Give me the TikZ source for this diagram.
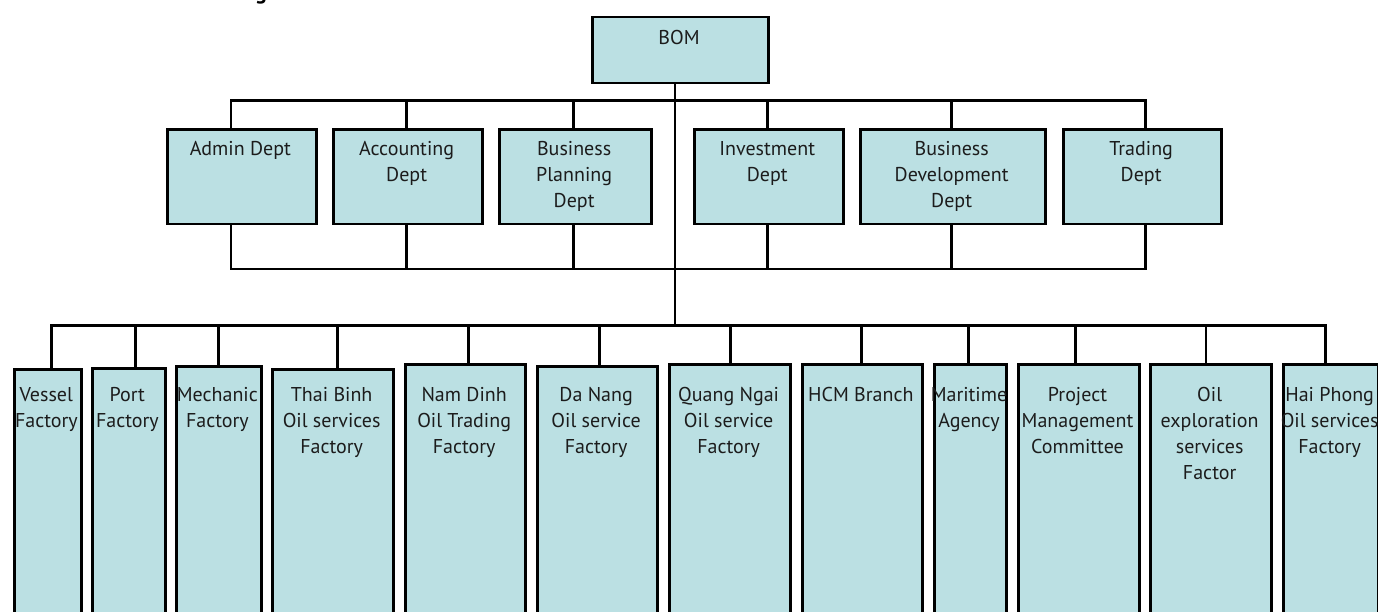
\documentclass[tikz,border=0pt]{standalone}
\usepackage{fontspec}
\setmainfont{PT Sans}
\definecolor{boxfill}{RGB}{187,224,227}
\definecolor{inkgray}{RGB}{28,28,28}

% centred lines whose reference point is the first baseline
\newcommand\toplines[1]{\parbox[t]{200pt}{\centering #1}}

% department box hanging between the two department buses
% #1 name, #2 left, #3 right, #4 wire x, #5 text
\newcommand\deptunit[5]{%
  \node[unitbox, minimum width={#3-#2}, minimum height=94.4] (#1) at (#2,128.3) {};
  \node[unittext] (#1-t) at ({(#2+#3)/2},155.7) {\toplines{#5}};
  \coordinate (#1-up) at (#4,100.7);
  \coordinate (#1-dn) at (#4,269);
  \draw[wire] (#1-up) -- (#1-up |- #1.north);
  \draw[wire] (#1-dn |- #1.south) -- (#1-dn);
}
% subsidiary column hanging from the lower bus
% #1 name, #2 left, #3 right, #4 top, #5 wire x, #6 text
\newcommand\lowunit[6]{%
  \node[unitbox, minimum width={#3-#2}, minimum height={640-#4}] (#1) at (#2,#4) {};
  \node[unittext] (#1-t) at ({(#2+#3)/2},401.5) {\toplines{#6}};
  \coordinate (#1-up) at (#5,325.5);
  \draw[wire] (#1-up) -- (#1-up |- #1.north);
}

\begin{document}
\begin{tikzpicture}[x=1pt,y=-1pt,
  unitbox/.style={draw=black, line width=2.8pt, fill=boxfill, inner sep=0pt, anchor=north west},
  unittext/.style={inner sep=0pt, anchor=base, text=inkgray,
                   font=\fontsize{20}{26}\selectfont},
  wire/.style={draw=black, line width=2.5pt, line cap=rect}]
\useasboundingbox (0,0) rectangle (1378,612);

% tail of the heading above the chart
\node[anchor=base, inner sep=0pt, font=\fontsize{22}{22}\selectfont\bfseries] (headtail) at (261,-0.5) {g};

% board of management
\node[unitbox, minimum width=175.7, minimum height=66] (bom) at (591,15.7) {};
\node[unittext] (bom-t) at (679,45) {BOM};
\coordinate (hub) at (675,325.5);
\draw[wire] (bom.south -| hub) -- (hub);

% departments
\deptunit{admin}{165.7}{315}{231}{Admin Dept}
\deptunit{acct}{332.3}{481}{406.7}{Accounting\\Dept}
\deptunit{plan}{498.3}{650}{573.3}{Business\\Planning\\Dept}
\deptunit{invest}{692.7}{841.7}{767.3}{Investment\\Dept}
\deptunit{bizdev}{859}{1044.3}{951.7}{Business\\Development\\Dept}
\deptunit{trading}{1062.3}{1220}{1145.7}{Trading\\Dept}
\draw[wire] (admin-up) -- (trading-up);
\draw[wire] (admin-dn) -- (trading-dn);

% subsidiaries
\lowunit{vessel}{12.7}{80}{367.7}{51.7}{Vessel\\Factory}
\lowunit{port}{91}{163.7}{367}{135.3}{Port\\Factory}
\lowunit{mech}{175}{259.7}{365}{218.7}{Mechanic\\Factory}
\lowunit{thaibinh}{271.3}{392}{367.7}{337.7}{Thai Binh\\Oil services\\Factory}
\lowunit{namdinh}{404}{524.3}{363.3}{468.3}{Nam Dinh\\Oil Trading\\Factory}
\lowunit{danang}{536}{656.3}{365}{599.3}{Da Nang\\Oil service\\Factory}
\lowunit{quangngai}{668.3}{789}{363.3}{730.3}{Quang Ngai\\Oil service\\Factory}
\lowunit{hcm}{800.7}{921}{362.7}{861.3}{HCM Branch}
\lowunit{maritime}{932.7}{1005.3}{362.7}{968.3}{Maritime\\Agency}
\lowunit{project}{1017.3}{1137.7}{362.7}{1075.3}{Project\\Management\\Committee}
\lowunit{oilexp}{1149.3}{1270}{362.7}{1206}{Oil\\exploration\\services\\Factor}
\lowunit{haiphong}{1282}{1377.3}{362.7}{1325.7}{Hai Phong\\Oil services\\Factory}
\draw[wire] (vessel-up) -- (haiphong-up);
\end{tikzpicture}
\end{document}
